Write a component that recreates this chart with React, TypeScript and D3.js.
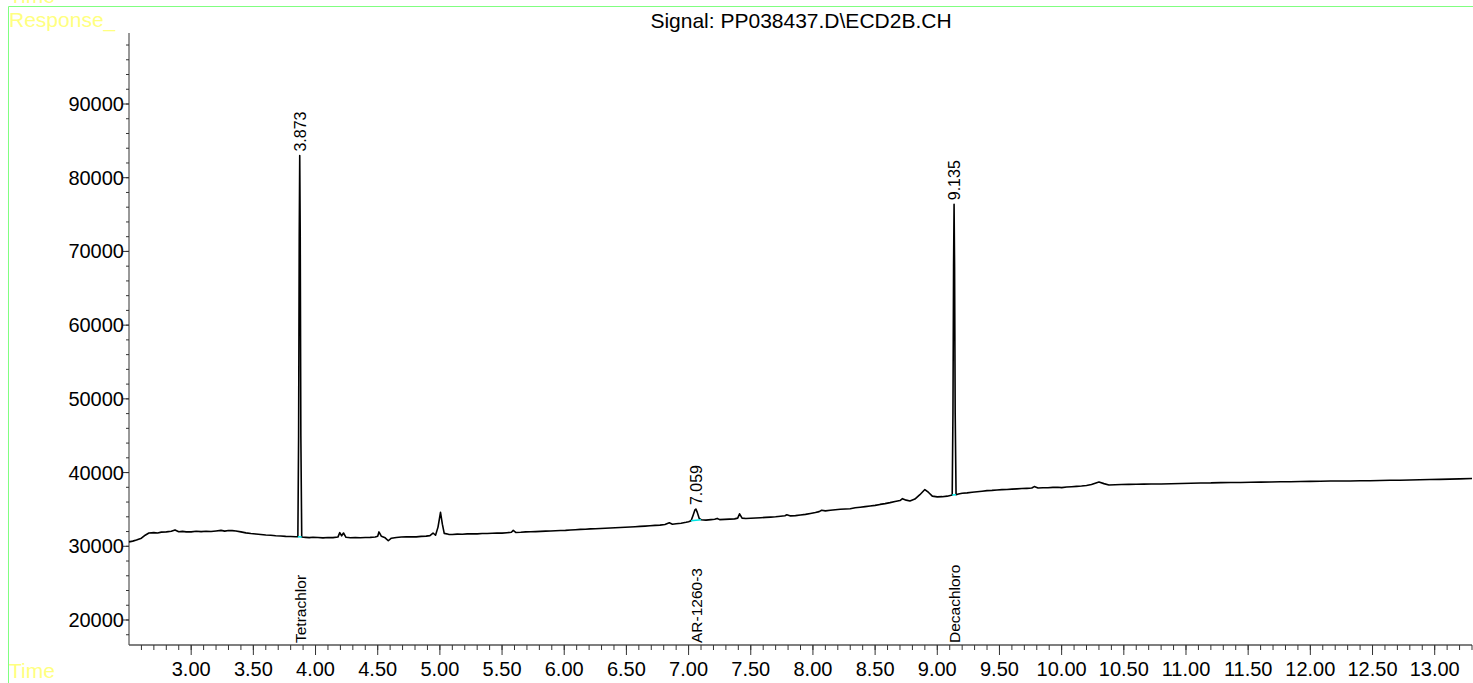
import { useMemo } from 'react';
import * as d3 from 'd3';

const WIDTH = 1473;
const HEIGHT = 683;
const PLOT = { left: 129, right: 1472, top: 33, bottom: 645 };

const TITLE = 'Signal: PP038437.D\\ECD2B.CH';

const X_DOMAIN: [number, number] = [2.5, 13.3];
const Y_DOMAIN: [number, number] = [16608, 99632];
const X_TICKS = [3, 3.5, 4, 4.5, 5, 5.5, 6, 6.5, 7, 7.5, 8, 8.5, 9, 9.5, 10, 10.5, 11, 11.5, 12, 12.5, 13];
const Y_TICKS = [20000, 30000, 40000, 50000, 60000, 70000, 80000, 90000];

// trace: [time (min), response]
const SIGNAL: [number, number][] = [
  [2.5, 30600], [2.53, 30700], [2.56, 30850], [2.6, 31100], [2.63, 31500], [2.66, 31800],
  [2.7, 31850], [2.73, 31800], [2.76, 31920], [2.8, 31950], [2.84, 32050], [2.87, 32220],
  [2.9, 31980], [2.93, 32020], [2.96, 31960], [3.0, 31950], [3.04, 32030], [3.08, 31990],
  [3.12, 32040], [3.16, 32010], [3.2, 32080], [3.24, 32160], [3.27, 32060], [3.3, 32150],
  [3.33, 32120], [3.36, 32080], [3.4, 31950], [3.44, 31820], [3.48, 31730], [3.52, 31660],
  [3.56, 31600], [3.6, 31540], [3.64, 31500], [3.68, 31430], [3.72, 31400], [3.76, 31350],
  [3.8, 31330], [3.84, 31290], [3.858, 31300], [3.864, 45000], [3.869, 72000], [3.873, 83000],
  [3.877, 72000], [3.882, 45000], [3.889, 31250], [3.92, 31210], [3.95, 31180], [3.98, 31230],
  [4.02, 31200], [4.06, 31140], [4.1, 31200], [4.14, 31170], [4.18, 31250], [4.195, 31850],
  [4.21, 31420], [4.225, 31800], [4.245, 31220], [4.28, 31150], [4.32, 31190], [4.36, 31160],
  [4.4, 31190], [4.44, 31210], [4.48, 31260], [4.5, 31350], [4.51, 31950], [4.53, 31350],
  [4.56, 31150], [4.585, 30750], [4.61, 31100], [4.65, 31200], [4.69, 31250], [4.73, 31280],
  [4.77, 31300], [4.81, 31280], [4.85, 31350], [4.89, 31380], [4.92, 31450], [4.945, 31800],
  [4.965, 31500], [4.985, 32600], [5.005, 34600], [5.02, 33000], [5.035, 31750], [5.07, 31620],
  [5.1, 31600], [5.14, 31650], [5.18, 31630], [5.22, 31680], [5.26, 31700], [5.3, 31680],
  [5.34, 31730], [5.38, 31740], [5.42, 31770], [5.46, 31800], [5.5, 31780], [5.54, 31840],
  [5.575, 31900], [5.59, 32150], [5.61, 31880], [5.65, 31900], [5.69, 31950], [5.73, 31970],
  [5.77, 31990], [5.81, 32020], [5.85, 32050], [5.89, 32070], [5.93, 32110], [5.97, 32140],
  [6.01, 32160], [6.05, 32200], [6.09, 32240], [6.13, 32290], [6.17, 32310], [6.21, 32360],
  [6.25, 32380], [6.29, 32410], [6.33, 32440], [6.37, 32470], [6.41, 32510], [6.45, 32550],
  [6.49, 32590], [6.53, 32620], [6.57, 32660], [6.61, 32700], [6.65, 32740], [6.69, 32790],
  [6.73, 32830], [6.77, 32870], [6.81, 32950], [6.845, 33180], [6.87, 32990], [6.9, 33050],
  [6.94, 33130], [6.98, 33250], [7.0, 33330], [7.02, 33450], [7.035, 34150], [7.05, 34900],
  [7.059, 35050], [7.07, 34600], [7.085, 33800], [7.1, 33600], [7.14, 33550], [7.18, 33620],
  [7.21, 33660], [7.23, 33780], [7.25, 33620], [7.29, 33650], [7.33, 33690], [7.37, 33720],
  [7.395, 33820], [7.41, 34400], [7.43, 33820], [7.46, 33760], [7.5, 33800], [7.54, 33840],
  [7.58, 33880], [7.62, 33920], [7.66, 33960], [7.7, 34000], [7.74, 34080], [7.775, 34150],
  [7.79, 34280], [7.82, 34120], [7.86, 34160], [7.9, 34250], [7.94, 34330], [7.98, 34450],
  [8.02, 34580], [8.05, 34700], [8.07, 34880], [8.1, 34800], [8.14, 34880], [8.18, 34960],
  [8.22, 35020], [8.26, 35060], [8.3, 35100], [8.34, 35220], [8.38, 35300], [8.42, 35380],
  [8.46, 35470], [8.5, 35550], [8.54, 35680], [8.58, 35790], [8.62, 35920], [8.66, 36080],
  [8.7, 36200], [8.72, 36460], [8.75, 36260], [8.78, 36150], [8.82, 36400], [8.86, 37000],
  [8.9, 37700], [8.93, 37300], [8.96, 36800], [9.0, 36700], [9.04, 36730], [9.08, 36800],
  [9.12, 36950], [9.126, 48000], [9.131, 68000], [9.135, 76400], [9.139, 68000], [9.144, 48000],
  [9.151, 37000], [9.17, 37100], [9.2, 37200], [9.24, 37240], [9.28, 37330], [9.32, 37400],
  [9.36, 37470], [9.4, 37550], [9.44, 37580], [9.48, 37640], [9.52, 37680], [9.56, 37700],
  [9.6, 37750], [9.64, 37790], [9.68, 37830], [9.72, 37860], [9.76, 37900], [9.78, 38100],
  [9.81, 37900], [9.85, 37950], [9.89, 37940], [9.93, 37990], [9.97, 38000], [10.0, 37960],
  [10.04, 38040], [10.08, 38080], [10.12, 38130], [10.16, 38170], [10.2, 38250], [10.24, 38380],
  [10.27, 38560], [10.3, 38720], [10.34, 38500], [10.38, 38310], [10.43, 38340], [10.48, 38380],
  [10.54, 38400], [10.6, 38410], [10.66, 38430], [10.72, 38450], [10.8, 38450], [10.88, 38490],
  [10.96, 38520], [11.04, 38560], [11.12, 38590], [11.2, 38600], [11.28, 38640], [11.36, 38650],
  [11.44, 38660], [11.52, 38690], [11.6, 38700], [11.68, 38730], [11.76, 38750], [11.84, 38760],
  [11.92, 38790], [12.0, 38800], [12.08, 38830], [12.16, 38850], [12.24, 38850], [12.32, 38860],
  [12.4, 38890], [12.48, 38900], [12.56, 38920], [12.64, 38950], [12.72, 38960], [12.8, 38990],
  [12.88, 39030], [12.96, 39050], [13.04, 39070], [13.12, 39110], [13.2, 39150], [13.3, 39200],
];

// integrated peaks: retention time, apex response, baseline start/end
const PEAK_RT = [3.873, 7.059, 9.135];
const PEAK_APEX = [83000, 35050, 76400];
const PEAK_NAMES = ['Tetrachlor', 'AR-1260-3', 'Decachloro'];
const BASE_START: [number, number][] = [[3.858, 31300], [7.02, 33450], [9.12, 36950]];
const BASE_END: [number, number][] = [[3.889, 31250], [7.1, 33600], [9.151, 37000]];

const FONT = "'Liberation Sans', Arial, sans-serif";
const GREEN = '#80ff80';
const YELLOW = '#ffff80';

export default function App() {
  const x = useMemo(() => d3.scaleLinear().domain(X_DOMAIN).range([PLOT.left, PLOT.right]), []);
  const y = useMemo(() => d3.scaleLinear().domain(Y_DOMAIN).range([PLOT.bottom, PLOT.top]), []);

  const path = useMemo(
    () => d3.line<[number, number]>().x((d) => x(d[0])).y((d) => y(d[1]))(SIGNAL) ?? '',
    [x, y]
  );

  const xMinor = d3.range(26, 134).map((v) => v / 10);
  const yMinor = d3.range(18000, 99000, 2000);

  return (
    <svg
      width={WIDTH}
      height={HEIGHT}
      style={{ position: 'absolute', left: 0, top: 0, background: '#fff' }}
      fontFamily={FONT}
    >
      {/* frame lines */}
      <line x1={8.5} y1={6.5} x2={WIDTH} y2={6.5} stroke={GREEN} strokeWidth={1} />
      <line x1={8.5} y1={6.5} x2={8.5} y2={HEIGHT} stroke={GREEN} strokeWidth={1} />
      <text x={9} y={3} fontSize={21} fill={YELLOW}>Time</text>
      <text x={9} y={27} fontSize={21} fill={YELLOW}>Response_</text>
      <text x={9} y={678} fontSize={21} fill={YELLOW}>Time</text>

      <text x={801} y={28} fontSize={21} textAnchor="middle" fill="#000">{TITLE}</text>

      {/* y axis */}
      <line x1={PLOT.left} y1={PLOT.top} x2={PLOT.left} y2={PLOT.bottom} stroke="#333" />
      {yMinor.map((v) => (
        <line key={v} x1={PLOT.left - 3} x2={PLOT.left} y1={y(v)} y2={y(v)} stroke="#333" />
      ))}
      {Y_TICKS.map((v) => (
        <g key={v}>
          <line x1={PLOT.left - 6} x2={PLOT.left} y1={y(v)} y2={y(v)} stroke="#333" />
          <text x={PLOT.left - 5} y={y(v) + 7} fontSize={20} textAnchor="end" fill="#000">{v}</text>
        </g>
      ))}

      {/* x axis */}
      <line x1={PLOT.left} y1={PLOT.bottom} x2={PLOT.right} y2={PLOT.bottom} stroke="#555" strokeWidth={1.5} />
      {xMinor.map((v) => (
        <line key={v} x1={x(v)} x2={x(v)} y1={PLOT.bottom} y2={PLOT.bottom + 5} stroke="#333" />
      ))}
      {X_TICKS.map((v) => (
        <g key={v}>
          <line x1={x(v)} x2={x(v)} y1={PLOT.bottom} y2={PLOT.bottom + 10} stroke="#333" />
          <text x={x(v)} y={676} fontSize={20} textAnchor="middle" fill="#000">{v.toFixed(2)}</text>
        </g>
      ))}

      {/* trace */}
      <path d={path} fill="none" stroke="#000" strokeWidth={1.6} strokeLinejoin="round" />

      {/* peak baselines, labels, compound names */}
      {PEAK_RT.map((rt, i) => (
        <g key={rt}>
          <line
            x1={x(BASE_START[i][0])}
            y1={y(BASE_START[i][1])}
            x2={x(BASE_END[i][0])}
            y2={y(BASE_END[i][1])}
            stroke="#00e5e5"
            strokeWidth={1.5}
          />
          <text
            transform={`translate(${x(rt) + 6},${y(PEAK_APEX[i]) - 4}) rotate(-90)`}
            fontSize={16}
            fill="#000"
          >
            {rt.toFixed(3)}
          </text>
          <text
            transform={`translate(${x(rt) + 6},${PLOT.bottom - 2}) rotate(-90)`}
            fontSize={15.5}
            fill="#000"
          >
            {PEAK_NAMES[i]}
          </text>
        </g>
      ))}
    </svg>
  );
}
